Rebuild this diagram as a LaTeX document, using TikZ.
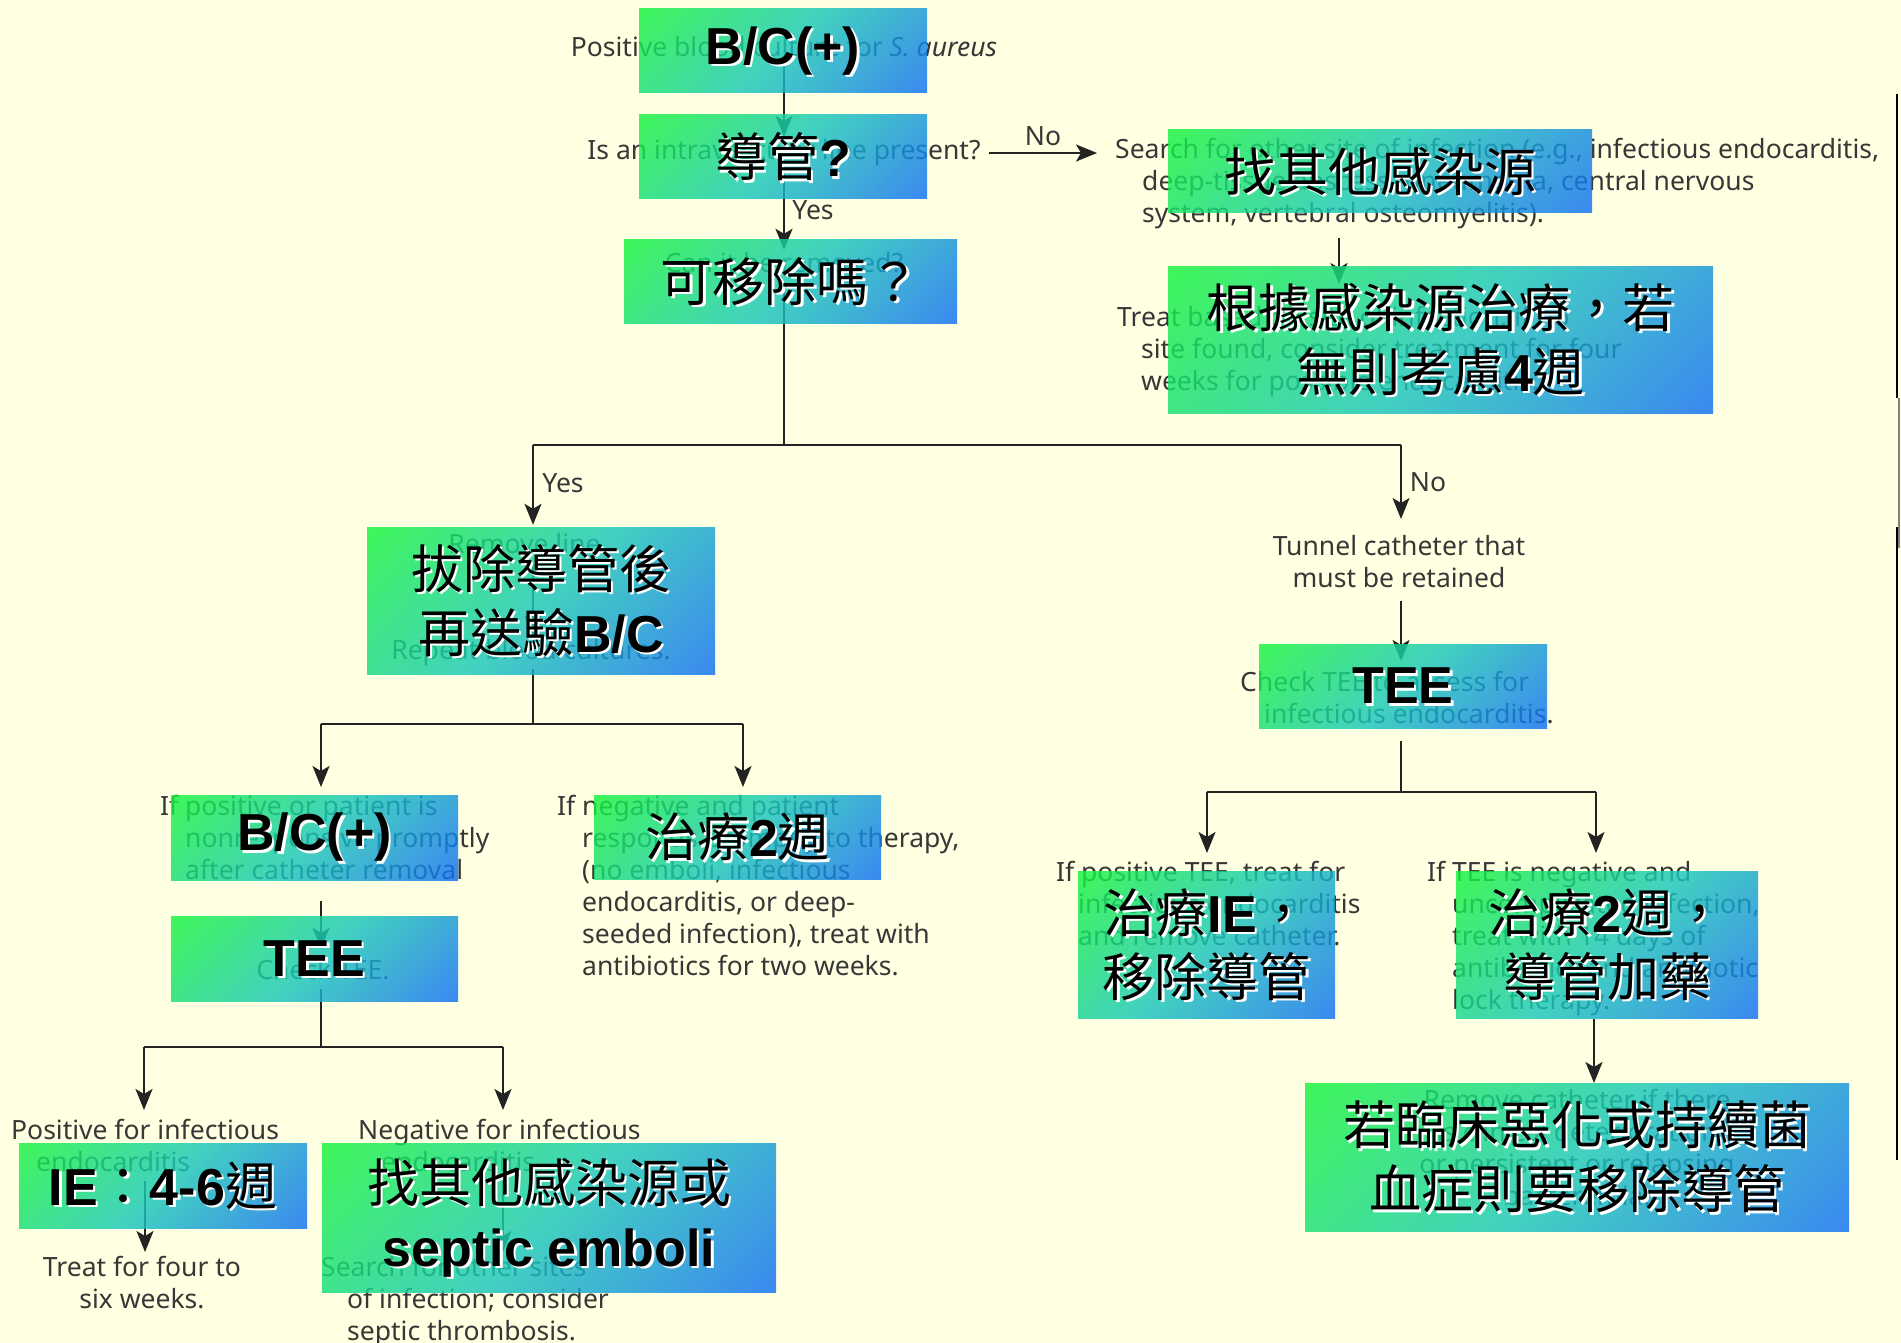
\documentclass[tikz,border=0pt]{standalone}
\usepackage{fontspec}
\setmainfont{Noto Sans}
\newfontfamily\cjk{Noto Sans CJK TC}
\newfontfamily\arial{Liberation Sans}
\usetikzlibrary{arrows.meta}
\definecolor{bg}{RGB}{255,255,225}
\definecolor{eng}{RGB}{55,55,55}
\definecolor{ln}{RGB}{35,35,35}
\definecolor{gtop}{RGB}{20,255,30}
\definecolor{gmid}{RGB}{25,200,185}
\definecolor{gbot}{RGB}{15,95,255}
\pgfdeclareverticalshading{diagsh}{100bp}{color(0bp)=(gbot); color(8bp)=(gbot); color(50bp)=(gmid); color(94bp)=(gtop); color(100bp)=(gtop)}
\newcommand{\LB}[1]{{\arial\bfseries #1}}
\newcommand{\cjkbox}[6]{%
  \node[gbox, minimum width=#4pt, minimum height=#5pt] (#1) at (#2,#3) {};
  \node[btext, text=white] at ([xshift=2.5pt,yshift=-2.5pt]#1.center) {#6};
  \node[btext] at (#1.center) {#6};}
\begin{document}
\begin{tikzpicture}[x=1pt,y=-1pt,
  etext/.style={font=\fontsize{26.5}{32}\selectfont, text=eng, inner sep=0pt, align=left, execute at begin node=\strut},
  ctext/.style={etext, align=center},
  lab/.style={font=\fontsize{26.5}{32}\selectfont, text=eng, inner sep=0pt},
  lnk/.style={draw=ln, line width=2pt},
  arr/.style={lnk, -{Stealth[length=21pt,width=17pt,inset=5pt]}},
  gbox/.style={inner sep=0pt, shading=diagsh, shading angle=45, fill opacity=0.82, draw=none},
  btext/.style={font=\cjk\fontsize{52}{64}\selectfont, align=center, inner sep=0pt, text=black}]
\useasboundingbox (0,0) rectangle (1901,1343);
\fill[bg] (0,0) rectangle (1901,1343);

% ---------- underlying English flowchart ----------
\node[etext] (e1) at (784,50) {Positive blood culture for \textit{S. aureus}};
\node[etext] (e2) at (784,153) {Is an intravascular line present?};
\node[etext, anchor=north west] (e3) at (1115,138) {Search for other site of infection (e.g., infectious endocarditis,\\\hspace*{27pt}deep-tissue abscess, pneumonia, central nervous\\\hspace*{27pt}system, vertebral osteomyelitis).};
\node[etext, anchor=north west] (e4) at (1117,306) {Treat based on site of infection; if no\\\hspace*{24pt}site found, consider treatment for four\\\hspace*{24pt}weeks for possible endocarditis.};
\node[etext] (e5) at (784,266) {Can it be removed?};
\node[etext] (e6) at (528,547) {Remove line.};
\node[etext] (e7) at (531,653) {Repeat blood cultures.};
\node[etext, anchor=north west] (e8) at (160,795) {If positive or patient is\\\hspace*{25pt}nonresponsive promptly\\\hspace*{25pt}after catheter removal};
\node[etext] (e9) at (323,973) {Check TEE.};
\node[etext, anchor=north west] (e10) at (11,1119) {Positive for infectious\\\hspace*{25pt}endocarditis};
\node[ctext, anchor=north] (e11) at (142,1256) {Treat for four to\\six weeks.};
\node[etext, anchor=north west] (e12) at (358,1119) {Negative for infectious\\\hspace*{23pt}endocarditis};
\node[etext, anchor=north west] (e13) at (321,1256) {Search for other sites\\\hspace*{26pt}of infection; consider\\\hspace*{26pt}septic thrombosis.};
\node[etext, anchor=north west] (e14) at (557,795) {If negative and patient\\\hspace*{25pt}responds promptly to therapy,\\\hspace*{25pt}(no emboli, infectious\\\hspace*{25pt}endocarditis, or deep-\\\hspace*{25pt}seeded infection), treat with\\\hspace*{25pt}antibiotics for two weeks.};
\node[ctext, anchor=north] (e15) at (1399,535) {Tunnel catheter that\\must be retained};
\node[etext, anchor=north west] (e16) at (1240,671) {Check TEE to assess for\\\hspace*{24pt}infectious endocarditis.};
\node[etext, anchor=north west] (e17) at (1056,861) {If positive TEE, treat for\\\hspace*{22pt}infectious endocarditis\\\hspace*{22pt}and remove catheter.};
\node[etext, anchor=north west] (e18) at (1427,861) {If TEE is negative and\\\hspace*{25pt}uncomplicated infection,\\\hspace*{25pt}treat with 14 days of\\\hspace*{25pt}antibiotics and antibiotic\\\hspace*{25pt}lock therapy.};
\node[ctext, anchor=north] (e19) at (1577,1089) {Remove catheter if there\\is clinical deterioration\\or persistent or relapsing\\bacteremia.};

\node[lab] (l1) at (1043,136) {No};
\node[lab] (l2) at (813,210) {Yes};
\node[lab] (l3) at (563,483) {Yes};
\node[lab] (l4) at (1428,482) {No};

\coordinate (j1) at (784,445); \coordinate (j1l) at (533,445); \coordinate (j1r) at (1401,445);
\coordinate (j2) at (533,724); \coordinate (j2l) at (321,724); \coordinate (j2r) at (743,724);
\coordinate (j3) at (321,1047); \coordinate (j3l) at (144,1047); \coordinate (j3r) at (503,1047);
\coordinate (j4) at (1401,792); \coordinate (j4l) at (1207,792); \coordinate (j4r) at (1596,792);
\coordinate (x3) at (1339,0); \coordinate (xe10) at (145,0); \coordinate (xe12) at (503,0); \coordinate (xe18) at (1594,0);

\draw[arr] (e1) -- (e2);
\draw[arr] (e2) -- (e5);
\draw[arr, shorten <=8pt, shorten >=18pt] (e2.east) -- (e2.east -| e3.west);
\draw[arr, shorten <=6pt, shorten >=22pt] (e3.south -| x3) -- (e4.north -| x3);
\draw[lnk] (e5) -- (j1);
\draw[lnk] (j1l) -- (j1r);
\draw[arr, shorten >=6pt] (j1l) -- (j1l |- e6.north);
\draw[arr, shorten >=16pt] (j1r) -- (j1r |- e15.north);
\draw[arr] (e6.south -| j1l) -- (e7.north -| j1l);
\draw[lnk] (e7.south -| j2) -- (j2);
\draw[lnk] (j2l) -- (j2r);
\draw[arr, shorten >=8pt] (j2l) -- (j2l |- e8.north);
\draw[arr, shorten >=8pt] (j2r) -- (j2r |- e14.north);
\draw[arr, shorten <=12pt, shorten >=8pt] (e8.south -| j2l) -- (e9.north -| j2l);
\draw[lnk] (e9.south -| j3) -- (j3);
\draw[lnk] (j3l) -- (j3r);
\draw[arr, shorten >=9pt] (j3l) -- (j3l |- e10.north);
\draw[arr, shorten >=9pt] (j3r) -- (j3r |- e12.north);
\draw[arr, shorten >=4pt] (e10.south -| xe10) -- (e11.north -| xe10);
\draw[arr, shorten >=4pt] (e12.south -| xe12) -- (e13.north -| xe12);
\draw[arr, shorten <=4pt, shorten >=10pt] (e15.south -| j4) -- (e16.north -| j4);
\draw[lnk, shorten <=8pt] (e16.south -| j4) -- (j4);
\draw[lnk] (j4l) -- (j4r);
\draw[arr, shorten >=8pt] (j4l) -- (j4l |- e17.north);
\draw[arr, shorten >=8pt] (j4r) -- (j4r |- e18.north);
\draw[arr, shorten >=6pt] (e18.south -| xe18) -- (e19.north -| xe18);

% right edge
\draw[black, line width=2.5pt] (1897,94) -- (1897,398);
\draw[gray, line width=1.5pt] (1899,398) -- (1899,548);
\draw[black, line width=2.5pt] (1897,527) -- (1897,1160);

% ---------- overlay boxes ----------
\cjkbox{b1}{783}{51}{288}{84}{\LB{B/C(+)}}
\cjkbox{b2}{783}{157}{288}{84}{導管\LB{?}}
\cjkbox{b3}{790.5}{281.5}{333}{83}{可移除嗎？}
\cjkbox{b4}{1380}{171.5}{424}{83}{找其他感染源}
\cjkbox{b5}{1440.5}{339.5}{545}{147}{根據感染源治療，若\\無則考慮\LB{4}週}
\cjkbox{b6}{541}{600.5}{348}{147}{拔除導管後\\再送驗\LB{B/C}}
\cjkbox{b7}{314.5}{837.5}{287}{85}{\LB{B/C(+)}}
\cjkbox{b8}{314.5}{958.5}{287}{85}{\LB{TEE}}
\cjkbox{b9}{737.5}{837}{287}{84}{治療\LB{2}週}
\cjkbox{b10}{163}{1185.5}{288}{85}{\LB{IE}：\LB{4-6}週}
\cjkbox{b11}{549}{1217.5}{454}{149}{找其他感染源或\\\LB{septic emboli}}
\cjkbox{b12}{1403}{686}{288}{84}{\LB{TEE}}
\cjkbox{b13}{1206.5}{944.5}{257}{147}{治療\LB{IE}，\\移除導管}
\cjkbox{b14}{1607}{944.5}{302}{147}{治療\LB{2}週，\\導管加藥}
\cjkbox{b15}{1577}{1157}{544}{148}{若臨床惡化或持續菌\\血症則要移除導管}
\end{tikzpicture}
\end{document}
